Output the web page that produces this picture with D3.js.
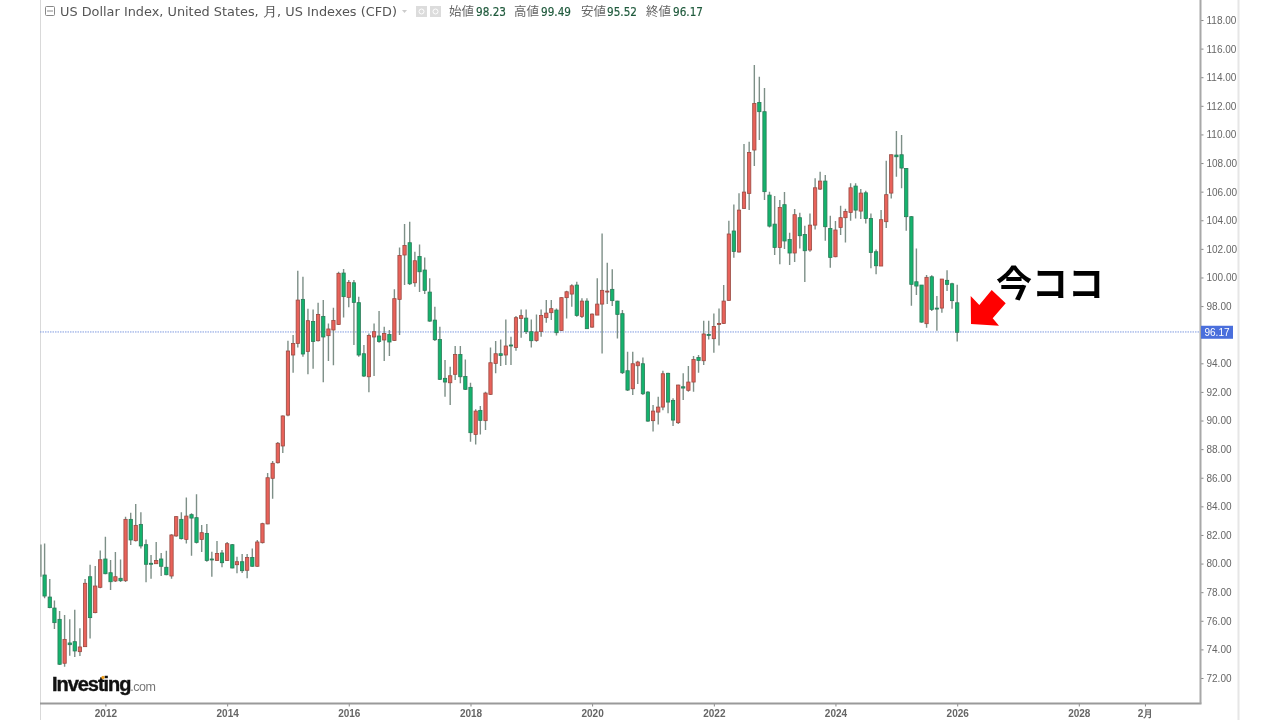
<!DOCTYPE html>
<html lang="ja">
<head>
<meta charset="utf-8">
<title>US Dollar Index</title>
<script src="https://cdn.jsdelivr.net/npm/d3@7/dist/d3.min.js"></script>
<style>
html,body{margin:0;padding:0;background:#fff;overflow:hidden}
svg{display:block;filter:blur(0.45px)}
</style>
</head>
<body>
<svg id="chart" width="1280" height="720"></svg>
<script>
// Monthly candles: first entry is the clipped Dec 2010 stick, then Jan 2011 ... Jan 2026
const firstStickDate = "2010-12-10";
const firstMonth = "2011-01-01";
const endMonth = "2026-02-01";
const opens = [null,
79.20,77.66,76.89,76.10,73.03,74.45,74.54,73.84,74.19,79.08,76.57,78.34,
80.32,79.36,78.78,78.97,78.80,83.09,81.60,82.74,81.32,80.02,79.99,80.32,
79.74,79.13,81.93,83.09,81.69,83.42,83.21,81.69,82.11,80.32,80.22,80.74,
80.22,81.32,79.92,80.13,79.53,80.43,79.81,81.46,82.77,85.96,87.05,88.22,
90.38,94.58,95.39,98.47,94.83,96.93,95.58,97.28,95.93,96.33,96.72,100.31,
98.61,99.63,98.24,94.67,93.06,95.84,95.91,95.63,96.02,95.60,98.47,101.57,
102.43,99.63,101.47,100.52,98.98,97.02,95.67,92.95,92.64,93.23,94.62,93.08,
92.32,89.03,90.71,89.99,91.83,93.99,94.67,94.58,95.28,95.11,97.14,97.16,
96.21,95.60,96.23,97.19,97.54,97.72,96.30,98.59,98.84,99.47,97.28,98.35,
96.53,97.37,98.14,99.00,99.17,98.35,97.47,93.48,92.22,93.83,93.97,91.99,
89.99,90.59,90.94,93.30,91.41,89.85,92.36,92.11,92.69,94.41,94.18,96.02,
95.72,96.72,96.79,98.40,103.25,101.78,104.83,105.88,108.91,112.24,111.59,105.76,
103.73,102.10,105.09,102.66,101.71,104.18,103.01,101.92,103.66,106.18,106.74,103.43,
101.45,103.50,104.18,104.55,106.39,104.64,105.92,104.13,101.80,100.80,103.90,105.90,
108.56,108.58,107.62,104.25,99.70,99.47,96.77,100.05,97.86,97.86,99.80,99.56,
98.23];
const highs = [81.34,
81.41,78.92,77.41,76.68,76.40,76.10,76.78,75.47,78.92,79.92,79.83,80.92,
81.88,80.25,80.81,80.29,83.28,83.56,84.16,83.58,81.69,80.60,81.51,80.74,
80.90,82.05,83.30,83.58,84.61,83.51,84.84,82.69,82.76,80.83,81.58,80.95,
81.51,81.37,80.48,80.67,80.67,81.06,81.65,82.86,86.33,87.17,88.50,90.35,
95.58,95.98,100.47,100.05,97.82,97.77,98.24,98.42,96.79,97.89,100.40,100.59,
99.82,99.82,98.66,95.28,96.09,96.79,97.65,96.56,96.33,99.17,102.10,103.73,
103.90,101.80,102.31,101.40,99.94,97.96,96.56,94.23,93.76,95.21,95.21,94.27,
92.64,90.78,91.01,92.01,95.11,95.56,95.67,97.07,95.86,97.30,97.77,97.77,
97.07,97.42,97.77,98.42,98.42,97.84,98.62,99.07,99.52,99.70,98.54,98.54,
97.49,99.94,103.08,101.03,100.57,98.38,97.72,94.81,94.81,94.18,94.41,92.04,
91.08,91.67,93.48,93.34,91.55,92.50,93.30,93.81,94.51,94.58,96.98,96.98,
97.49,97.84,99.47,103.97,105.11,105.88,109.33,109.49,114.85,114.03,113.24,106.00,
105.69,105.41,105.97,103.13,104.78,104.53,103.62,104.48,106.93,107.39,107.16,104.32,
103.94,105.02,104.81,106.58,106.58,106.18,106.06,104.48,101.96,104.71,108.16,108.60,
110.24,109.96,107.65,104.30,102.03,99.47,100.17,100.15,98.70,99.90,100.50,99.63,
99.49];
const lows = [79.08,
77.57,76.87,75.43,72.91,72.79,73.56,73.47,73.54,74.19,74.77,76.52,78.27,
79.25,78.15,78.71,78.71,78.71,81.30,81.55,81.06,78.69,78.94,79.97,79.13,
79.18,78.94,81.88,81.69,81.41,80.55,81.41,80.81,80.13,79.08,80.20,79.74,
80.18,79.67,79.32,79.34,78.97,79.78,79.78,81.41,82.75,84.53,87.00,87.73,
90.30,93.34,95.11,94.46,93.23,93.62,95.53,92.67,94.16,93.86,96.67,97.21,
97.91,95.28,94.46,93.05,91.97,93.11,95.44,94.16,94.51,95.56,95.98,99.47,
99.47,99.35,98.98,98.84,96.91,95.56,92.83,91.67,91.08,92.83,92.60,92.13,
88.52,88.33,89.03,89.34,91.78,93.30,93.81,93.88,93.88,94.88,95.79,96.05,
95.11,95.51,95.86,96.84,97.02,95.95,96.25,97.14,97.96,97.26,97.16,96.39,
96.49,97.37,94.69,98.14,98.00,95.74,93.25,92.06,91.78,92.55,91.78,89.92,
89.24,89.73,90.71,90.50,89.61,89.76,91.43,92.01,92.01,93.34,93.88,95.67,
94.74,95.25,96.74,98.37,101.38,101.75,104.81,104.71,107.79,109.61,105.41,103.50,
101.57,100.92,101.99,100.87,101.08,102.03,99.68,101.80,103.36,106.11,102.57,100.68,
101.42,102.97,102.45,103.97,104.13,104.08,103.78,100.64,100.22,100.80,103.46,105.53,
107.04,106.23,103.27,98.03,98.77,96.84,96.49,97.65,96.28,97.54,99.05,97.82,
95.52];
const closes = [null,
77.73,76.92,75.87,72.96,74.70,74.33,73.89,74.17,78.62,76.22,78.43,80.27,
79.29,78.73,79.08,78.80,83.09,81.65,82.67,81.23,79.95,79.95,80.22,79.81,
79.22,82.00,83.28,81.74,83.32,83.18,81.48,82.16,80.22,80.25,80.71,80.06,
81.39,79.69,80.13,79.50,80.43,79.81,81.51,82.79,86.00,87.01,88.41,90.32,
94.86,95.39,98.42,94.65,96.98,95.53,97.42,95.84,96.40,97.00,100.29,98.66,
99.66,98.26,94.58,93.11,95.95,96.21,95.53,96.09,95.49,98.52,101.54,102.24,
99.56,101.17,100.40,99.10,96.95,95.65,92.88,92.69,93.13,94.62,93.06,92.18,
89.15,90.66,90.01,91.92,94.04,94.67,94.55,95.21,95.21,97.19,97.33,96.21,
95.58,96.19,97.35,97.51,97.82,96.14,98.59,99.00,99.42,97.35,98.35,96.42,
97.44,98.14,99.10,99.05,98.38,97.42,93.34,92.13,93.97,94.09,91.87,89.96,
90.66,90.94,93.27,91.29,90.03,92.48,92.27,92.69,94.27,94.20,96.05,95.95,
96.58,96.79,98.35,103.04,101.82,104.71,105.97,108.74,112.17,111.59,106.00,103.59,
102.10,104.90,102.55,101.71,104.39,102.92,101.87,103.66,106.27,106.74,103.55,101.40,
103.32,104.18,104.62,106.27,104.71,105.90,104.13,101.75,100.82,104.04,105.79,108.58,
108.44,107.65,104.25,99.52,99.40,96.88,100.01,97.77,97.79,99.89,99.52,98.38,
96.17];
// 96.00 is hidden behind the last-price tag in the source chart
const priceTicks = [72,74,76,78,80,82,84,86,88,90,92,94,98,100,102,104,106,108,110,112,114,116,118];
const timeTicks = ["2012-01-01","2014-01-01","2016-01-01","2018-01-01","2020-01-01","2022-01-01","2024-01-01","2026-01-01","2028-01-01","2029-02-01"];
const timeLabels = ["2012","2014","2016","2018","2020","2022","2024","2026","2028","2月"];
const lastPrice = 96.17;
const titleText = "US Dollar Index, United States, 月, US Indexes (CFD)";
const ohlcLabels = ["始値","高値","安値","終値"];
const ohlcValues = ["98.23","99.49","95.52","96.17"];

const parseDate = d3.utcParse("%Y-%m-%d");
const dates = [parseDate(firstStickDate)].concat(d3.utcMonth.range(parseDate(firstMonth), parseDate(endMonth)));

const svg = d3.select("#chart");
const plot = {left:40, right:1200.5, top:0, bottom:703.5};

const x = d3.scaleUtc().domain([parseDate("2012-01-01"), parseDate("2028-01-01")]).range([105.4, 1078.8]);
const y = d3.scaleLinear().domain([72, 118]).range([678, 20]);

svg.append("rect").attr("width",1280).attr("height",720).attr("fill","#fff");
svg.append("defs").append("clipPath").attr("id","plotClip").append("rect")
  .attr("x",plot.left).attr("y",plot.top).attr("width",plot.right-plot.left).attr("height",plot.bottom-plot.top);

// frame lines
svg.append("line").attr("x1",40.5).attr("x2",40.5).attr("y1",0).attr("y2",720).attr("stroke","#d9d9d9");
svg.append("line").attr("x1",1238.5).attr("x2",1238.5).attr("y1",0).attr("y2",720).attr("stroke","#e6e6e6").attr("stroke-width",2);

// last price line
svg.append("line").attr("x1",plot.left).attr("x2",plot.right)
  .attr("y1",y(lastPrice)-0.3).attr("y2",y(lastPrice)-0.3)
  .attr("stroke","#7f9be0").attr("stroke-width",1).attr("stroke-dasharray","1.5,1");

// candles
const idx = d3.range(dates.length);
const candles = svg.append("g").attr("clip-path","url(#plotClip)");
candles.selectAll("line.wick").data(idx).join("line").attr("class","wick")
  .attr("x1",i=>x(dates[i])).attr("x2",i=>x(dates[i]))
  .attr("y1",i=>y(highs[i])).attr("y2",i=>y(lows[i]))
  .attr("stroke","#7d8f87").attr("stroke-width",1.4);
const bodyW = 3.3;
candles.selectAll("rect.body").data(idx.filter(i=>opens[i]!==null)).join("rect").attr("class","body")
  .attr("x",i=>x(dates[i])-bodyW/2).attr("width",bodyW)
  .attr("y",i=>y(Math.max(opens[i],closes[i])))
  .attr("height",i=>Math.max(1,Math.abs(y(opens[i])-y(closes[i]))))
  .attr("fill",i=>closes[i]>=opens[i]?"#e8625a":"#14b36d")
  .attr("stroke",i=>closes[i]>=opens[i]?"#9a4a42":"#2b7a58")
  .attr("stroke-width",0.8);

// axes
const fontStack = '"Liberation Sans",Arial,sans-serif';
const yAxis = d3.axisRight(y).tickValues(priceTicks).tickFormat(d=>d.toFixed(2)).tickSize(3).tickPadding(3);
const gy = svg.append("g").attr("transform",`translate(${plot.right},0)`).call(yAxis);
gy.select(".domain").remove();
gy.selectAll("line").attr("stroke","#888");
gy.selectAll("text").attr("fill","#666").attr("font-family",fontStack).attr("font-size",10).attr("dy","0.34em");

const xAxis = d3.axisBottom(x).tickValues(timeTicks.map(parseDate)).tickFormat((d,i)=>timeLabels[i]).tickSize(3).tickPadding(3);
const gx = svg.append("g").attr("transform",`translate(0,${plot.bottom})`).call(xAxis);
gx.select(".domain").remove();
gx.selectAll("line").attr("stroke","#888");
gx.selectAll("text").attr("fill","#666").attr("font-family",fontStack).attr("font-size",10).attr("font-weight",700);

svg.append("line").attr("x1",40).attr("x2",plot.right+1).attr("y1",plot.bottom).attr("y2",plot.bottom).attr("stroke","#9a9a9a").attr("stroke-width",2);
svg.append("line").attr("x1",plot.right).attr("x2",plot.right).attr("y1",0).attr("y2",plot.bottom).attr("stroke","#a8a8a8").attr("stroke-width",2);

// last price tag
svg.append("rect").attr("x",1201).attr("y",y(lastPrice)-6.5).attr("width",32).attr("height",13).attr("fill","#4a6fdc");
svg.append("text").attr("x",1217).attr("y",y(lastPrice)+3.6).attr("text-anchor","middle")
  .attr("fill","#fff").attr("font-family",fontStack).attr("font-size",10).text(lastPrice.toFixed(2));

// header
svg.append("rect").attr("x",45.5).attr("y",6.5).attr("width",9).attr("height",9).attr("rx",1).attr("fill","none").attr("stroke","#888");
svg.append("line").attr("x1",47).attr("x2",53).attr("y1",11).attr("y2",11).attr("stroke","#888");
svg.append("text").attr("x",60).attr("y",16).attr("fill","#555")
  .attr("font-family",'"DejaVu Sans",sans-serif').attr("font-stretch","condensed").attr("font-size",13)
  .attr("textLength",337).attr("lengthAdjust","spacingAndGlyphs").text(titleText);
svg.append("path").attr("d","M402 10h5l-2.5 3z").attr("fill","#ccc");
[416,430].forEach(px=>{
  svg.append("rect").attr("x",px).attr("y",6).attr("width",11).attr("height",11).attr("fill","#dcdcdc");
  svg.append("circle").attr("cx",px+5.5).attr("cy",11.5).attr("r",2.5).attr("fill","none").attr("stroke","#fff");
});
const labelX = [449,514,581,646], valueX = [476,541,607,673];
ohlcLabels.forEach((t,i)=>{
  svg.append("text").attr("x",labelX[i]).attr("y",16).attr("fill","#666")
    .attr("font-family",'"Noto Sans CJK JP",sans-serif').attr("font-size",12.5).text(t);
  svg.append("text").attr("x",valueX[i]).attr("y",16).attr("fill","#1f5a3c")
    .attr("font-family",'"DejaVu Sans",sans-serif').attr("font-size",13).attr("stroke","#1f5a3c").attr("stroke-width",0.2)
    .attr("textLength",30).attr("lengthAdjust","spacingAndGlyphs").text(ohlcValues[i]);
});

// annotation
svg.append("text").attr("x",996).attr("y",297).attr("fill","#000")
  .attr("font-family",'"Noto Sans CJK JP",sans-serif').attr("font-weight",700).attr("font-size",36).text("今ココ");
svg.append("polygon").attr("fill","#ff0000")
  .attr("points","970.7,296 971,324 999,325.7 992.7,318.3 1005.7,303.3 991.7,290 979.3,305");

// logo
const logo = svg.append("text").attr("x",52).attr("y",691).attr("font-family",fontStack);
logo.append("tspan").attr("font-weight",700).attr("font-size",20).attr("letter-spacing",-1.05).attr("fill","#111").attr("stroke","#111").attr("stroke-width",0.4).text("Investing");
logo.append("tspan").attr("font-size",12.5).attr("fill","#777").attr("letter-spacing",-0.5).text(".com");
svg.append("circle").attr("cx",103).attr("cy",677.5).attr("r",1.7).attr("fill","#f0a020");
</script>
</body>
</html>
